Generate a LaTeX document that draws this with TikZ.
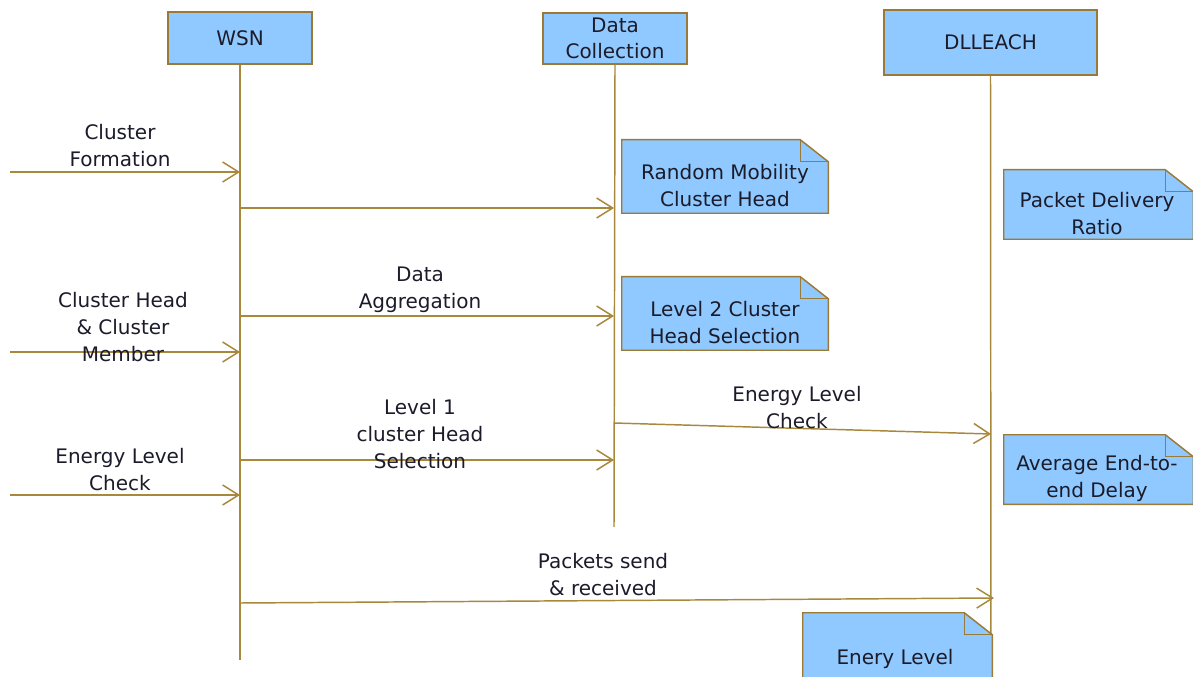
\documentclass[tikz,border=0pt]{standalone}
\usepackage{fontspec}
\setmainfont{DejaVu Sans}
\usetikzlibrary{arrows.meta}
\definecolor{lineC}{HTML}{A8893C}
\definecolor{boxC}{HTML}{9A7A38}
\definecolor{fillC}{HTML}{8FC9FF}
\definecolor{txtC}{HTML}{1B1B2A}
\tikzset{
  head/.style={draw=boxC, line width=1.3pt, fill=fillC, font=\fontsize{15}{20}\selectfont, text=txtC, align=center, inner sep=0pt},
  lifeline/.style={draw=lineC, line width=1.1pt},
  msg/.style={draw=lineC, line width=1.1pt, -{Straight Barb[length=12pt,width=15pt,line width=1.1pt]}},
  lbl/.style={font=\fontsize{15}{20.25}\selectfont, text=txtC, align=center, inner sep=0pt},
  notebg/.style={inner sep=0pt, draw=none},
  noteline/.style={draw=boxC, line width=1.1pt, fill=fillC, line join=miter},
}
\begin{document}
\begin{tikzpicture}[x=0.75pt,y=-0.75pt]
\useasboundingbox (0,0) rectangle (1193,677);
\clip (0,0) rectangle (1193,677);
% headers
\node[head, minimum width=144*0.75pt, minimum height=52*0.75pt] (wsn) at (240,38) {WSN};
\node[head, minimum width=144*0.75pt, minimum height=51*0.75pt] (dc) at (615,38.5) {Data\\Collection};
\node[head, minimum width=213*0.75pt, minimum height=65*0.75pt] (dl) at (990.5,42.5) {DLLEACH};
% lifelines
\coordinate (wsnE) at (240,660);
\coordinate (dcE) at (614,527);
\coordinate (dlE) at (991,690);
\draw[lifeline] (wsn.south) -- (wsnE);
\draw[lifeline] (dc.south) -- (dcE);
\draw[lifeline] (dl.south) -- (dlE);
% notes
\node[notebg, minimum width=206*0.75pt, minimum height=73*0.75pt] (n1) at (725,176.5) {};
\node[notebg, minimum width=206*0.75pt, minimum height=73*0.75pt] (n2) at (725,313.5) {};
\node[notebg, minimum width=189*0.75pt, minimum height=69*0.75pt] (n3) at (1098.5,204.5) {};
\node[notebg, minimum width=189*0.75pt, minimum height=69*0.75pt] (n4) at (1098.5,469.5) {};
\node[notebg, minimum width=189*0.75pt, minimum height=90*0.75pt] (n5) at (897.5,658) {};
\foreach \n in {n1,n2,n3,n4,n5}{
  \draw[noteline] (\n.south west) -- (\n.north west) -- ([xshift=-21pt]\n.north east)
     -- ([yshift=-16.5pt]\n.north east) -- (\n.south east) -- cycle;
  \draw[noteline, fill=none] ([xshift=-21pt]\n.north east) -- ([xshift=-21pt,yshift=-16.5pt]\n.north east)
     -- ([yshift=-16.5pt]\n.north east);
}
\node[lbl] (t1) at (725,186) {Random Mobility\\Cluster Head};
\node[lbl] (t2) at (725,323) {Level 2 Cluster\\Head Selection};
\node[lbl] (t3) at (1097,214) {Packet Delivery\\Ratio};
\node[lbl] (t4) at (1097,478) {Average End-to-\\end Delay};
\node[lbl] (t5) at (895,659) {Enery Level};
% message endpoints
\coordinate (a1s) at (10,172);   \coordinate (a1e) at (240,172);
\coordinate (a2s) at (240,208);  \coordinate (a2e) at (614,208);
\coordinate (a3s) at (240,316);  \coordinate (a3e) at (614,316);
\coordinate (a4s) at (10,352);   \coordinate (a4e) at (240,352);
\coordinate (a5s) at (614,423);  \coordinate (a5e) at (991,434);
\coordinate (a6s) at (240,460);  \coordinate (a6e) at (614,460);
\coordinate (a7s) at (10,495);   \coordinate (a7e) at (240,495);
\coordinate (a8s) at (240,603);  \coordinate (a8e) at (994,598);
\draw[msg] (a1s) -- (a1e);
\draw[msg] (a2s) -- (a2e);
\draw[msg] (a3s) -- (a3e);
\draw[msg] (a4s) -- (a4e);
\draw[msg] (a5s) -- (a5e);
\draw[msg] (a6s) -- (a6e);
\draw[msg] (a7s) -- (a7e);
\draw[msg] (a8s) -- (a8e);
% labels
\node[lbl] (l1) at (120,146) {Cluster\\Formation};
\node[lbl] (l4) at (123,327) {Cluster Head\\\& Cluster\\Member};
\node[lbl] (l7) at (120,470) {Energy Level\\Check};
\node[lbl] (l3) at (420,290) {Data\\Aggregation};
\node[lbl] (l6) at (420,434) {Level 1\\cluster Head\\Selection};
\node[lbl] (l5) at (797,408) {Energy Level\\Check};
\node[lbl] (l8) at (603,575) {Packets send\\\& received};
\end{tikzpicture}
\end{document}
